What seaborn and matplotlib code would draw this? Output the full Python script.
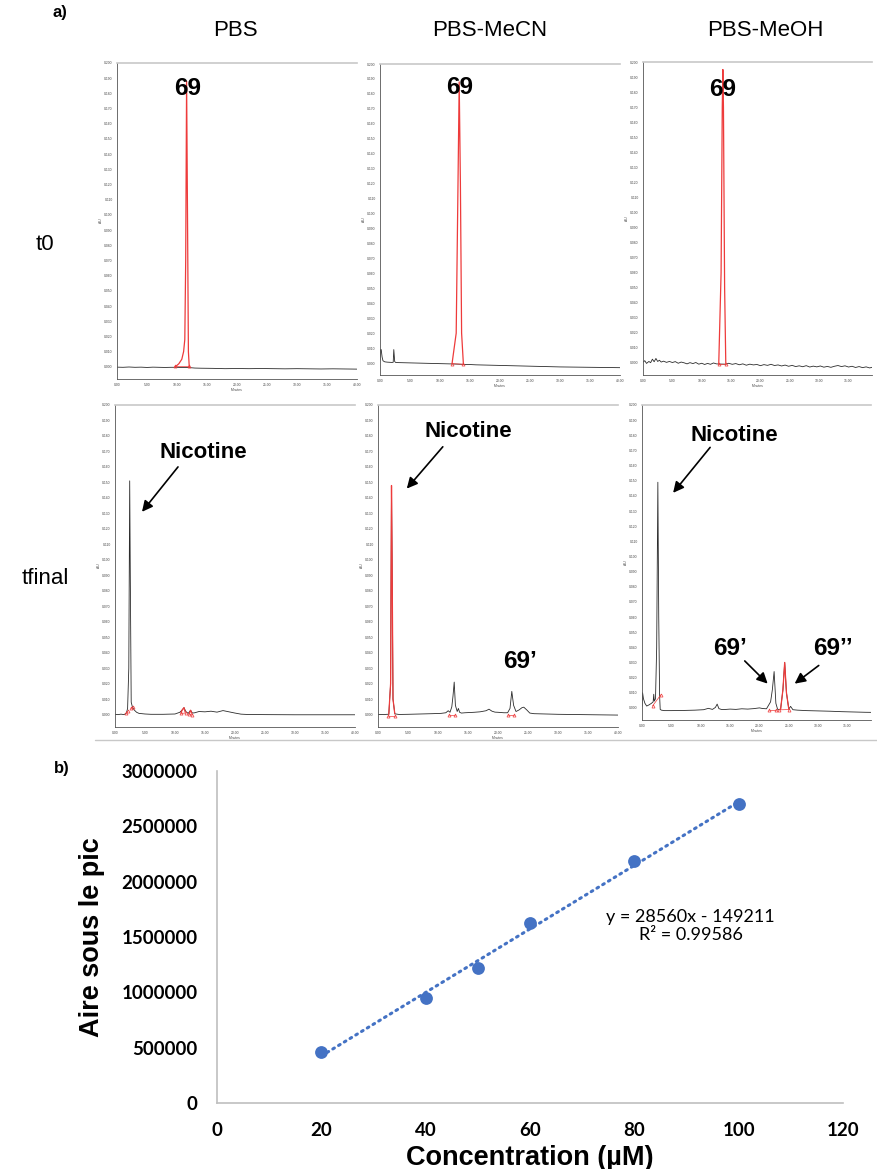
import numpy as np
import pandas as pd

import matplotlib

matplotlib.use("Agg")
import matplotlib.pyplot as plt  # noqa: E402
from matplotlib.lines import Line2D  # noqa: E402
from matplotlib.ticker import FormatStrFormatter, MultipleLocator, StrMethodFormatter  # noqa: E402

import seaborn as sns  # noqa: E402

# ---------------------------------------------------------------- b) calibration
conc_um = [20, 40, 50, 60, 80, 100]
peak_area = [465000, 952000, 1218000, 1629000, 2188000, 2700000]
fit_text = "y = 28560x - 149211\nR² = 0.99586"

# ---------------------------------------------------------------- a) chromatograms
# vertices: (time in min, absorbance in AU)
columns = ["PBS", "PBS-MeCN", "PBS-MeOH"]
rows = ["t0", "tfinal"]

pbs_t0 = [(0, -0.0002), (1, -0.0003), (2, -0.0001), (3, -0.0003), (4, -0.0002), (5, -0.0004),
          (6, -0.0002), (7, -0.0003), (8, -0.0004), (9, -0.0003), (9.6, -0.0003), (12.05, -0.0005),
          (13, -0.0008), (14, -0.0009), (16, -0.0010), (18, -0.0012), (20, -0.0011), (22, -0.0012),
          (24, -0.0011), (26, -0.0012), (28, -0.0013), (30, -0.0012), (32, -0.0013), (34, -0.0014),
          (36, -0.0013), (38, -0.0014), (40, -0.0015)]
pbs_t0_red = [[(9.6, -0.0003), (10.3, 0.002), (10.8, 0.005), (11.1, 0.010), (11.3, 0.018),
               (11.45, 0.070), (11.6, 0.188), (11.75, 0.100), (11.9, 0.010), (12.05, -0.0005)]]
pbs_t0_marks = [[(9.6, 0.0005), (12.05, 0.0005)]]

mecn_t0 = [(0, 0.002), (0.1, 0.009), (0.2, 0.009), (0.35, 0.004), (0.5, 0.0015), (0.8, 0.0008),
           (1.2, 0.0006), (1.6, 0.0005), (2.0, 0.0004), (2.2, 0.0005), (2.3, 0.009), (2.45, 0.001),
           (2.6, 0.0004), (3, 0.0003), (4, 0.0002), (5, 0.0001), (6, 0.0), (7, -0.0001),
           (8, -0.0002), (9, -0.0003), (10, -0.0004), (11, -0.0005), (12.0, -0.0006),
           (13.9, -0.0009), (15, -0.0010), (16, -0.0012), (18, -0.0014), (20, -0.0016),
           (22, -0.0018), (24, -0.0020), (26, -0.0022), (28, -0.0024), (30, -0.0026),
           (32, -0.0027), (34, -0.0028), (36, -0.0029), (38, -0.0030), (40, -0.0031)]
mecn_t0_red = [[(12.0, -0.0006), (12.7, 0.020), (13.0, 0.120), (13.2, 0.188), (13.4, 0.120),
                (13.6, 0.020), (13.9, -0.0009)]]
mecn_t0_marks = [[(12.0, -0.0004), (13.9, -0.0008)]]

meoh_t0 = [(0, 0.0005), (0.3, 0.0015), (0.6, -0.0003), (1.0, 0.0010), (1.3, 0.0002), (1.6, 0.0025),
           (1.9, 0.0008), (2.2, 0.0030), (2.5, 0.0010), (2.8, 0.0018), (3.1, 0.0006), (3.5, 0.0012),
           (4.0, 0.0004), (4.5, 0.0010), (5.0, 0.0003), (5.5, 0.0009), (6.0, -0.0002), (6.5, 0.0006),
           (7.0, 0.0001), (7.5, -0.0006), (8.0, 0.0002), (8.5, -0.0004), (9.0, 0.0003), (9.5, -0.0008),
           (10.0, -0.0002), (10.5, -0.0010), (11.0, -0.0003), (11.5, -0.0009), (12.0, 0.0),
           (12.5, -0.0006), (12.9, -0.0007), (14.1, -0.0008), (14.6, -0.0002), (15.2, -0.0009),
           (15.8, -0.0004), (16.4, -0.0012), (17.0, -0.0006), (17.6, -0.0015), (18.2, -0.0008),
           (18.8, -0.0013), (19.4, -0.0010), (20.0, -0.0018), (20.6, -0.0011), (21.2, -0.0016),
           (21.8, -0.0009), (22.4, -0.0017), (23.0, -0.0013), (23.6, -0.0020), (24.2, -0.0014),
           (24.8, -0.0022), (25.4, -0.0016), (26.0, -0.0024), (26.6, -0.0019), (27.2, -0.0025),
           (27.8, -0.0018), (28.4, -0.0027), (29.0, -0.0021), (29.6, -0.0026), (30.2, -0.0020),
           (30.8, -0.0028), (31.4, -0.0023), (32.0, -0.0029), (32.6, -0.0022), (33.2, -0.0017),
           (33.8, -0.0024), (34.4, -0.0019), (35.0, -0.0027), (35.6, -0.0022), (36.2, -0.0030),
           (36.8, -0.0024), (37.4, -0.0031), (38.0, -0.0026), (38.6, -0.0033), (39.2, -0.0027),
           (40.0, -0.0032)]
meoh_t0_red = [[(12.9, -0.0007), (13.3, 0.060), (13.5, 0.170), (13.6, 0.195), (13.7, 0.170),
                (13.9, 0.050), (14.1, -0.0008)]]
meoh_t0_marks = [[(12.9, -0.0009), (14.1, -0.0010)]]

pbs_tf = [(0, 0.0002), (0.5, 0.0), (1.0, 0.0003), (1.5, 0.0), (1.9, 0.0010), (2.1, 0.0040),
          (2.3, 0.0300), (2.45, 0.1510), (2.55, 0.0900), (2.7, 0.0080), (2.9, 0.0050), (3.2, 0.0030),
          (3.6, 0.0015), (4.0, 0.0008), (5.0, 0.0004), (6.0, 0.0002), (8.0, 0.0002), (10.0, 0.0004),
          (10.8, 0.0015), (11.2, 0.0030), (11.5, 0.0045), (11.8, 0.0020), (12.2, 0.0008),
          (12.6, 0.0028), (12.9, 0.0010), (13.3, 0.0012), (14.0, 0.0020), (15.0, 0.0018),
          (16.0, 0.0022), (17.0, 0.0016), (18.0, 0.0026), (19.0, 0.0018), (20.0, 0.0010),
          (21.0, 0.0003), (22.0, 0.0001), (25.0, 0.0), (30.0, -0.0001), (35.0, -0.0001),
          (40.0, -0.0001)]
pbs_tf_red = [[(11.0, 0.0012), (11.2, 0.0030), (11.5, 0.0045), (11.7, 0.0015)],
              [(12.4, 0.0010), (12.6, 0.0028), (12.8, 0.0008)]]
pbs_tf_marks = [[(1.8, 0.0008), (2.1, 0.0022)], [(2.7, 0.0040), (3.0, 0.0050)],
                [(11.0, 0.0008), (11.8, 0.0010)], [(12.4, 0.0002), (12.9, -0.0002)]]

mecn_tf = [(0, 0.0), (0.5, 0.0001), (1.0, 0.0), (1.5, 0.0002), (1.8, 0.0002), (2.1, 0.0200),
           (2.25, 0.1480), (2.35, 0.1000), (2.5, 0.0100), (2.8, 0.0005), (3.5, 0.0001), (5.0, 0.0002),
           (7.0, 0.0004), (9.0, 0.0006), (10.5, 0.0008), (11.3, 0.0012), (11.7, 0.0025), (12.0, 0.0015),
           (12.3, 0.0050), (12.5, 0.0120), (12.7, 0.0210), (12.9, 0.0060), (13.2, 0.0020),
           (13.4, 0.0040), (13.6, 0.0015), (13.9, 0.0010), (14.5, 0.0012), (16.0, 0.0015),
           (17.0, 0.0018), (18.0, 0.0025), (18.5, 0.0035), (19.0, 0.0022), (19.5, 0.0016),
           (20.0, 0.0015), (21.0, 0.0012), (21.6, 0.0012), (22.0, 0.0040), (22.3, 0.0150),
           (22.6, 0.0060), (23.0, 0.0020), (23.5, 0.0030), (24.0, 0.0045), (24.3, 0.0048),
           (24.8, 0.0030), (25.3, 0.0010), (26.0, 0.0006), (28.0, 0.0004), (30.0, 0.0002),
           (32.0, 0.0001), (34.0, 0.0), (36.0, -0.0001), (38.0, -0.0002), (40.0, -0.0003)]
mecn_tf_red = [[(1.8, 0.0002), (2.1, 0.0200), (2.25, 0.1480), (2.35, 0.1000), (2.5, 0.0100),
                (2.8, 0.0005)]]
mecn_tf_marks = [[(1.7, -0.0006), (2.8, -0.0006)], [(11.8, -0.0004), (12.9, -0.0004)],
                 [(21.6, -0.0002), (22.7, -0.0002)]]

meoh_tf = [(0, 0.0010), (0.1, 0.0100), (0.25, 0.0060), (0.5, 0.0030), (0.8, 0.0012), (1.2, 0.0020),
           (1.6, 0.0030), (1.9, 0.0040), (2.0, 0.0090), (2.1, 0.0045), (2.3, 0.0060), (2.5, 0.0400),
           (2.7, 0.1490), (2.85, 0.0600), (3.0, 0.0080), (3.1, -0.0010), (3.3, -0.0015),
           (3.8, -0.0018), (5.0, -0.0018), (7.0, -0.0017), (9.0, -0.0015), (10.5, -0.0012),
           (11.3, -0.0003), (12.0, -0.0010), (12.5, 0.0003), (12.8, 0.0025), (13.1, -0.0005),
           (13.5, -0.0010), (14.0, -0.0011), (15.0, -0.0008), (16.0, -0.0010), (17.0, -0.0006),
           (18.0, -0.0008), (19.0, -0.0005), (20.0, 0.0), (20.5, -0.0004), (21.2, -0.0006),
           (21.9, 0.0040), (22.2, 0.0120), (22.5, 0.0240), (22.8, 0.0030), (23.1, -0.0010),
           (23.6, -0.0010), (24.0, 0.0120), (24.3, 0.0300), (24.6, 0.0100), (25.0, -0.0008),
           (25.3, 0.0010), (25.7, -0.0012), (26.5, -0.0015), (28.0, -0.0018), (30.0, -0.0020),
           (32.0, -0.0022), (34.0, -0.0025), (36.0, -0.0027), (38.0, -0.0029), (40.0, -0.0030)]
meoh_tf_red = [[(23.6, -0.0010), (24.0, 0.0120), (24.3, 0.0300), (24.6, 0.0100), (25.0, -0.0008)]]
meoh_tf_marks = [[(1.8, 0.0013), (3.2, 0.0086)], [(21.7, -0.0014), (22.9, -0.0014)],
                 [(23.4, -0.0013), (25.0, -0.0011)]]

# ---------------------------------------------------------------- style
sns.set_style("white")
plt.rcParams["font.family"] = ["Liberation Sans", "DejaVu Sans"]
plt.rcParams.update({"text.color": "black", "axes.labelcolor": "black",
                     "xtick.color": "black", "ytick.color": "black"})

W, H = 878, 1169
fig = plt.figure(figsize=(W / 100, H / 100), dpi=100)

TRACE = "#2b2b2b"
RED = "#ee3b3b"
BLUE = "#4472c4"


def px_axes(left, top, right, bottom):
    return fig.add_axes([left / W, 1 - bottom / H, (right - left) / W, (bottom - top) / H])


def to_df(points):
    return pd.DataFrame(points, columns=["t", "au"])


def draw_chrom(ax, trace, red_segs, marks, lo, t_max=40):
    sns.lineplot(data=to_df(trace), x="t", y="au", ax=ax, color=TRACE, lw=0.6,
                 estimator=None, sort=False)
    for seg in red_segs:
        sns.lineplot(data=to_df(seg), x="t", y="au", ax=ax, color=RED, lw=0.9,
                     estimator=None, sort=False)
    for seg in marks:
        d = to_df(seg)
        ax.plot(d["t"], d["au"], color=RED, lw=0.5, marker="^", ms=2.2,
                mfc="none", mec=RED, mew=0.5)
    ax.set_xlim(0, t_max)
    ax.set_ylim(lo, 0.2)
    ax.xaxis.set_major_locator(MultipleLocator(5))
    ax.xaxis.set_minor_locator(MultipleLocator(1))
    ax.yaxis.set_major_locator(MultipleLocator(0.01))
    ax.yaxis.set_minor_locator(MultipleLocator(0.002))
    ax.xaxis.set_major_formatter(FormatStrFormatter("%.2f"))
    ax.yaxis.set_major_formatter(FormatStrFormatter("%.3f"))
    ax.tick_params(which="major", length=2, width=0.4, labelsize=2.4, pad=1, colors="#444444")
    ax.tick_params(which="minor", length=1, width=0.3, colors="#444444")
    ax.set_xlabel("Minutes", fontsize=2.4, labelpad=0.5, color="#444444")
    ax.set_ylabel("AU", fontsize=2.4, labelpad=1, color="#444444")
    for side in ["left", "bottom"]:
        ax.spines[side].set_color("#555555")
        ax.spines[side].set_linewidth(0.6)
    ax.spines["top"].set_color("#c8c8c8")
    ax.spines["top"].set_linewidth(1.2)
    ax.spines["right"].set_visible(False)


big = dict(fontsize=16, fontweight="bold", ha="center", va="center")
num = dict(fontsize=17.5, fontweight="bold", ha="center", va="center")
arrow = dict(arrowstyle="-|>", color="black", lw=1.2, mutation_scale=16, shrinkA=0, shrinkB=0)

# top row (t0)
ax = px_axes(117, 63, 357, 379)
draw_chrom(ax, pbs_t0, pbs_t0_red, pbs_t0_marks, -0.008)
ax.text(11.8, 0.1835, "69", **num)

ax = px_axes(380, 64, 620, 375)
draw_chrom(ax, mecn_t0, mecn_t0_red, mecn_t0_marks, -0.008)
ax.text(13.3, 0.184, "69", **num)

ax = px_axes(643, 62, 872, 375)
draw_chrom(ax, meoh_t0, meoh_t0_red, meoh_t0_marks, -0.008, t_max=39)
ax.text(13.6, 0.182, "69", **num)

# bottom row (tfinal)
ax = px_axes(115, 405, 355, 727)
draw_chrom(ax, pbs_tf, pbs_tf_red, pbs_tf_marks, -0.008)
ax.text(14.7, 0.169, "Nicotine", **big)
ax.annotate("", xy=(4.5, 0.131), xytext=(10.5, 0.160), arrowprops=arrow)

ax = px_axes(378, 405, 618, 727)
draw_chrom(ax, mecn_tf, mecn_tf_red, mecn_tf_marks, -0.008)
ax.text(15.0, 0.183, "Nicotine", **big)
ax.annotate("", xy=(4.8, 0.146), xytext=(10.8, 0.173), arrowprops=arrow)
ax.text(23.7, 0.034, "69’", **num)

ax = px_axes(642, 405, 871, 720)
draw_chrom(ax, meoh_tf, meoh_tf_red, meoh_tf_marks, -0.008, t_max=39)
ax.text(15.8, 0.180, "Nicotine", **big)
ax.annotate("", xy=(5.3, 0.142), xytext=(11.6, 0.172), arrowprops=arrow)
ax.text(15.0, 0.039, "69’", **num)
ax.annotate("", xy=(21.4, 0.016), xytext=(17.5, 0.031), arrowprops=arrow)
ax.text(32.5, 0.039, "69’’", **num)
ax.annotate("", xy=(26.0, 0.016), xytext=(30.1, 0.028), arrowprops=arrow)

# headers
for label, xc in zip(columns, [235, 490, 765]):
    fig.text(xc / W, 1 - 30 / H, label, fontsize=16, ha="center", va="center")
for label, yc in zip(rows, [245, 578]):
    fig.text(45 / W, 1 - yc / H, label, fontsize=16, ha="center", va="center")
fig.text(60 / W, 1 - 13 / H, "a)", fontsize=12, fontweight="bold", ha="center", va="center")
fig.text(62 / W, 1 - 768 / H, "b)", fontsize=12, fontweight="bold", ha="center", va="center")
fig.add_artist(Line2D([95 / W, 1], [1 - 740 / H, 1 - 740 / H], color="#c8c8c8", lw=1))

# ---------------------------------------------------------------- b) scatter + trend
calib = pd.DataFrame({"conc": conc_um, "area": peak_area})
ax = px_axes(217, 771, 843, 1103)
sns.regplot(data=calib, x="conc", y="area", ax=ax, ci=None, truncate=True,
            scatter_kws=dict(s=85, color=BLUE, alpha=1, linewidths=0, zorder=3),
            line_kws=dict(color=BLUE, lw=2.2, ls=(0, (0.6, 1.6)), dash_capstyle="round"))
ax.set_xlim(0, 120)
ax.set_ylim(0, 3000000)
ax.set_xticks(range(0, 121, 20))
ax.set_yticks(range(0, 3000001, 500000))
ax.yaxis.set_major_formatter(StrMethodFormatter("{x:.0f}"))
ax.tick_params(length=0, labelsize=13.5)
ax.tick_params(axis="y", pad=14)
ax.tick_params(axis="x", pad=14)
for lab in ax.get_xticklabels() + ax.get_yticklabels():
    lab.set_fontfamily("Lato")
    lab.set_fontweight("bold")
for side in ["left", "bottom"]:
    ax.spines[side].set_color("#bfbfbf")
    ax.spines[side].set_linewidth(1.2)
ax.spines["top"].set_visible(False)
ax.spines["right"].set_visible(False)
ax.set_xlabel("Concentration (µM)", fontsize=19.5, fontweight="bold", labelpad=4)
ax.set_ylabel("Aire sous le pic", fontsize=19.5, fontweight="bold", labelpad=12)
ax.text(90.8, 1600000, fit_text, fontsize=13, ha="center", va="center",
        family="Lato", linespacing=1.2)

fig.savefig("out.png", dpi=100)
